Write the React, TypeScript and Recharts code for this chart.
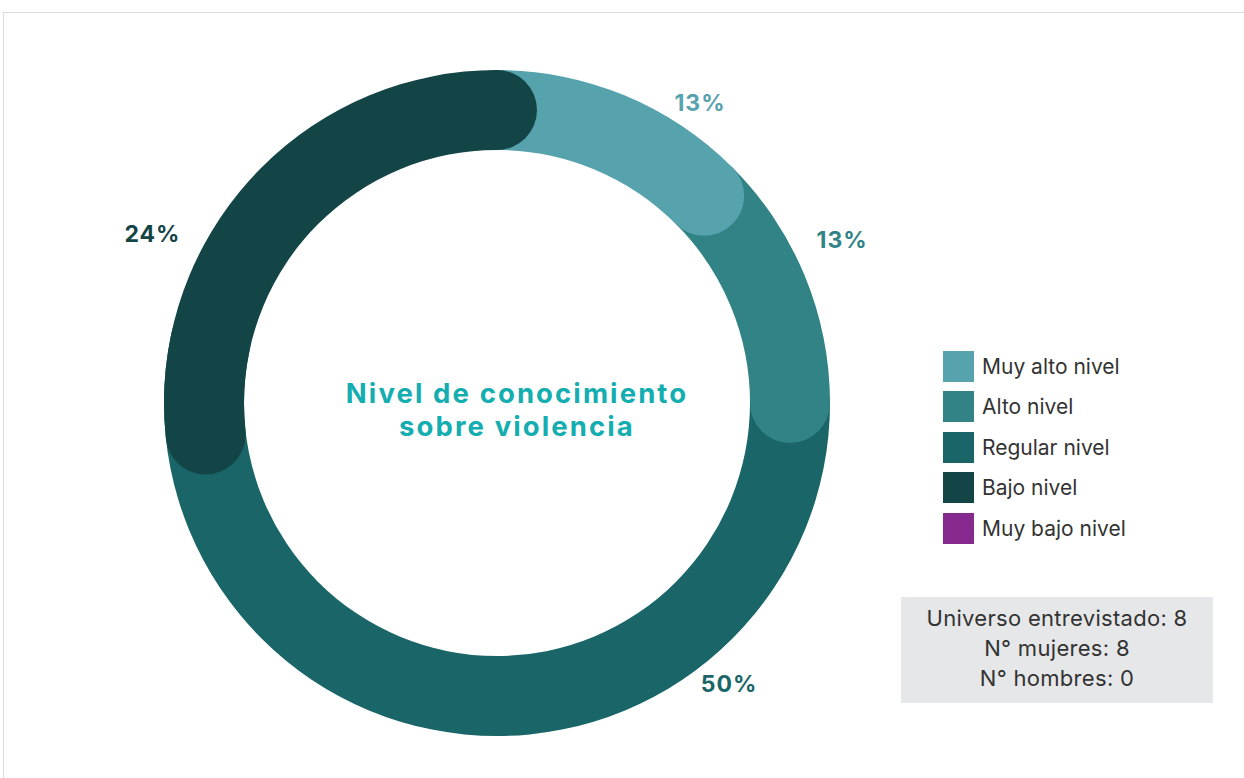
import { PieChart, Pie, Cell, Legend, Sector } from "recharts";

// Levels of knowledge about violence (8 respondents)
const CATEGORIES = ["Muy alto nivel", "Alto nivel", "Regular nivel", "Bajo nivel", "Muy bajo nivel"];
const COUNTS = [1, 1, 4, 2, 0];
const PCT_LABELS = ["13%", "13%", "50%", "24%", "0%"];
const COLORS = ["#56a2ad", "#318385", "#196567", "#134547", "#862a8f"];
const TITLE_LINES = ["Nivel de conocimiento", "sobre violencia"];
const SUMMARY = ["Universo entrevistado: 8", "N° mujeres: 8", "N° hombres: 0"];

const CX = 497;
const CY = 403;
const INNER = 253;
const OUTER = 333;
const CAP_R = (OUTER - INNER) / 2;
const MID_R = (OUTER + INNER) / 2;
const RAD = Math.PI / 180;
// how far the last segment's rounded start reaches back over the previous one
const START_OVERLAP = 14;
const FONT = "Inter, 'Noto Sans', sans-serif";

// label placement: clockwise degrees from 12 o'clock, distance from centre
const LABEL_POS = [
  { deg: 34, r: 363 },
  { deg: 64.6, r: 382 },
  { deg: 140.4, r: 364 },
  { deg: 296.2, r: 384 },
  { deg: 0, r: 0 },
];

const data = CATEGORIES.map((name, i) => ({ name, value: COUNTS[i] }));
const lastIdx = COUNTS.reduce((acc, v, i) => (v > 0 ? i : acc), 0);

// Draws the round end caps of each arc plus its percentage text.
function renderSegment(props: any) {
  const { cx, cy, startAngle, endAngle, index, value } = props;
  if (!value) return <g key={`l-${index}`} />;
  const color = COLORS[index];
  const ex = cx + MID_R * Math.cos(-endAngle * RAD);
  const ey = cy + MID_R * Math.sin(-endAngle * RAD);
  const pos = LABEL_POS[index];
  const lx = cx + pos.r * Math.sin(pos.deg * RAD);
  const ly = cy - pos.r * Math.cos(pos.deg * RAD);
  return (
    <g key={`l-${index}`}>
      {index === lastIdx && (
        <Sector
          cx={cx}
          cy={cy}
          innerRadius={INNER}
          outerRadius={OUTER}
          startAngle={startAngle + START_OVERLAP}
          endAngle={startAngle - 20}
          cornerRadius={CAP_R}
          fill={color}
        />
      )}
      <circle cx={ex} cy={ey} r={CAP_R} fill={color} />
      <text
        x={lx}
        y={ly + 8.5}
        textAnchor="middle"
        fill={color}
        fontFamily={FONT}
        fontWeight={700}
        fontSize={23}
        letterSpacing={1}
      >
        {PCT_LABELS[index]}
      </text>
    </g>
  );
}

// keep the legend in category order (recharts sorts by name otherwise)
function LegendContent(props: any) {
  const items = [...(props.payload ?? [])].sort(
    (a: any, b: any) => CATEGORIES.indexOf(a.value) - CATEGORIES.indexOf(b.value)
  );
  return (
    <div>
      {items.map((it: any, i: number) => (
        <div key={i} style={{ display: "flex", alignItems: "center", height: 40.5 }}>
          <span
            style={{ display: "inline-block", width: 31, height: 31, background: it.color, marginRight: 8 }}
          />
          <span style={{ fontFamily: FONT, fontSize: 21, color: "#333333" }}>{it.value}</span>
        </div>
      ))}
    </div>
  );
}

export default function App() {
  return (
    <div style={{ position: "absolute", left: 0, top: 0, width: 1244, height: 778, background: "#fff" }}>
      <div
        style={{
          position: "absolute",
          left: 3,
          top: 12,
          width: 1241,
          height: 766,
          borderTop: "1px solid #dadada",
          borderLeft: "1px solid #dadada",
          boxSizing: "border-box",
        }}
      />
      <PieChart width={1244} height={778} margin={{ top: 0, right: 0, bottom: 0, left: 0 }}>
        <Pie
          data={data}
          dataKey="value"
          nameKey="name"
          cx={CX}
          cy={CY}
          innerRadius={INNER}
          outerRadius={OUTER}
          startAngle={90}
          endAngle={-270}
          stroke="none"
          label={renderSegment}
          labelLine={false}
          isAnimationActive={false}
        >
          {data.map((d, i) => (
            <Cell key={d.name} fill={COLORS[i]} />
          ))}
        </Pie>
        <Legend
          layout="vertical"
          align="right"
          verticalAlign="top"
          content={LegendContent}
          wrapperStyle={{ left: 943, top: 346, width: 260, right: "auto" }}
        />
      </PieChart>
      {TITLE_LINES.map((line, i) => (
        <div
          key={line}
          style={{
            position: "absolute",
            left: CX + 20 - 250,
            top: 377 + i * 33.4,
            width: 500,
            height: 33.4,
            textAlign: "center",
            fontFamily: FONT,
            fontWeight: 700,
            fontSize: 27.5,
            lineHeight: "33.4px",
            letterSpacing: 2.1,
            color: "#14adb0",
            whiteSpace: "nowrap",
          }}
        >
          {line}
        </div>
      ))}
      <div
        style={{
          position: "absolute",
          left: 901,
          top: 597,
          width: 312,
          height: 106,
          boxSizing: "border-box",
          paddingTop: 6,
          background: "#e6e7e8",
          textAlign: "center",
          fontFamily: FONT,
          fontSize: 22,
          lineHeight: "30px",
          letterSpacing: 0.3,
          color: "#333333",
        }}
      >
        {SUMMARY.map((s) => (
          <div key={s}>{s}</div>
        ))}
      </div>
    </div>
  );
}
